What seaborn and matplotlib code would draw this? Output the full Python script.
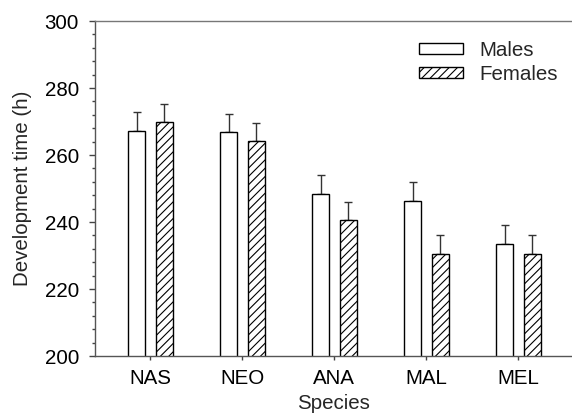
import matplotlib
matplotlib.use("Agg")
import matplotlib.pyplot as plt
from matplotlib.ticker import MultipleLocator
from matplotlib.patches import Patch
import seaborn as sns
import pandas as pd
import numpy as np

species = ["NAS", "NEO", "ANA", "MAL", "MEL"]
males = [267.3, 266.8, 248.5, 246.4, 233.4]
females = [269.8, 264.2, 240.7, 230.5, 230.5]
males_err = [5.4, 5.4, 5.6, 5.4, 5.6]
females_err = [5.5, 5.4, 5.4, 5.6, 5.6]
sexes = ["Males", "Females"]

sns.set_theme(style="ticks")
plt.rcParams["font.family"] = ["Liberation Sans", "DejaVu Sans"]
plt.rcParams["hatch.linewidth"] = 0.8
plt.rcParams["hatch.color"] = "black"

FS = 14.8

df = pd.DataFrame({
    "Species": species * 2,
    "Sex": ["Males"] * len(species) + ["Females"] * len(species),
    "Time": males + females,
})

fig = plt.figure(figsize=(5.72, 4.19), dpi=100)
ax = fig.add_axes([95 / 572, 1 - 356 / 419, 1 - 95 / 572, (356 - 21) / 419])

sns.barplot(data=df, x="Species", y="Time", hue="Sex", order=species,
            hue_order=sexes, palette=["white", "white"], edgecolor="black",
            linewidth=1.0, width=0.596, gap=0.38, errorbar=None, legend=False,
            ax=ax)

bars = ax.patches
n = len(species)
for i, p in enumerate(bars[:2 * n]):
    if i >= n:
        p.set_hatch("////")
    p.set_zorder(2)

errs = males_err + females_err
vals = males + females
xs = [p.get_x() + p.get_width() / 2 for p in bars[:2 * n]]
ax.errorbar(xs, vals, yerr=[np.zeros(len(errs)), errs], fmt="none",
            ecolor="#333333", elinewidth=1.0, capsize=3.2, capthick=1.0,
            zorder=1)

ax.set_ylim(200, 300)
ax.set_xlim(-0.601, 4.583)
ax.yaxis.set_major_locator(MultipleLocator(20))
ax.yaxis.set_minor_locator(MultipleLocator(4))
ax.tick_params(axis="y", which="major", length=4.5, width=1, color="#444444",
               labelsize=FS, pad=7, labelcolor="black")
ax.tick_params(axis="y", which="minor", length=2.5, width=1, color="#444444")
ax.tick_params(axis="x", which="major", length=3, width=1, color="#444444",
               labelsize=FS, pad=6.5, labelcolor="black")

for s in ["left", "bottom", "top"]:
    ax.spines[s].set_visible(True)
    ax.spines[s].set_linewidth(1.0)
ax.spines["left"].set_color("#555555")
ax.spines["bottom"].set_color("#555555")
ax.spines["top"].set_color("#777777")
ax.spines["right"].set_visible(False)

ax.set_xlabel("Species", fontsize=FS, labelpad=4.5)
ax.set_ylabel("Development time (h)", fontsize=FS, labelpad=9)

handles = [Patch(facecolor="white", edgecolor="black", linewidth=1.0),
           Patch(facecolor="white", edgecolor="black", linewidth=1.0, hatch="////")]
fig.legend(handles, sexes, loc="upper left",
           bbox_to_anchor=(419 / 572, 1 - 41 / 419), frameon=False,
           fontsize=FS, handlelength=2.16, handleheight=0.43,
           handletextpad=0.77, labelspacing=0.22, borderpad=0, borderaxespad=0)

fig.savefig("out.png", dpi=100)
